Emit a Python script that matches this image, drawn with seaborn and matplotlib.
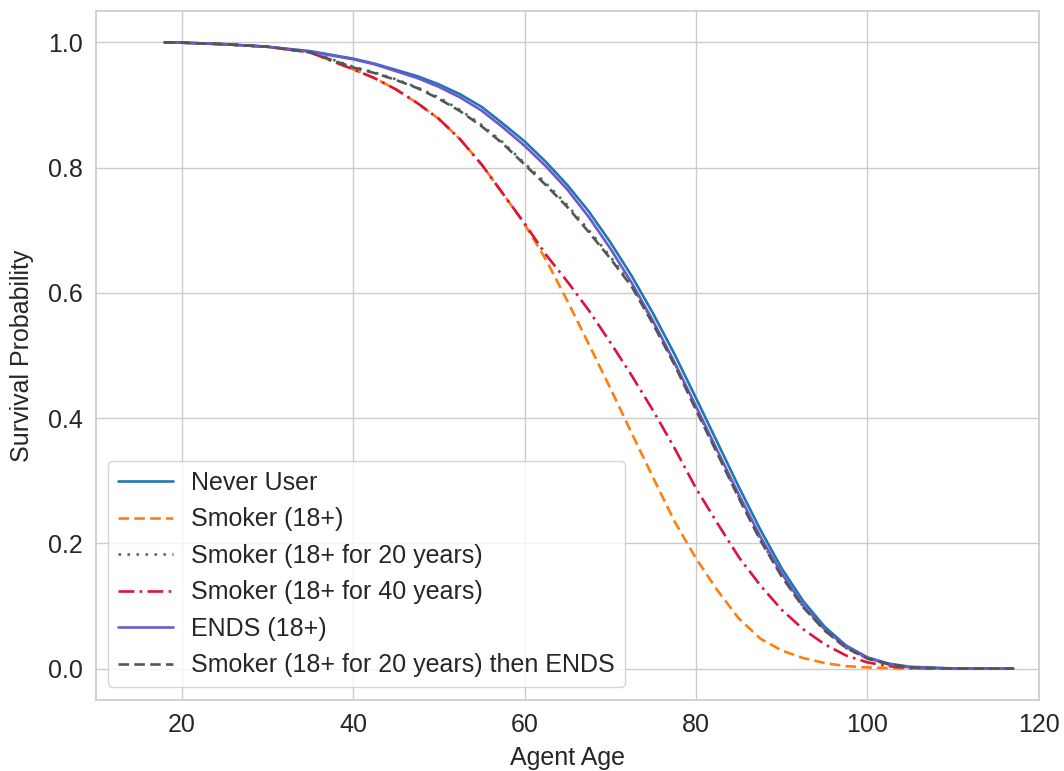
import numpy as np
import pandas as pd
import matplotlib
matplotlib.use("Agg")
import matplotlib.pyplot as plt
import seaborn as sns

# Agent age grid (years)
ages = [18, 20, 25, 30, 35, 40, 42.5, 45, 47.5, 50, 52.5, 55, 57.5, 60, 62.5, 65, 67.5,
        70, 72.5, 75, 77.5, 80, 82.5, 85, 87.5, 90, 92.5, 95, 97.5, 100, 102.5, 105,
        110, 117]

# Survival probability by user type
never_user = [1.000, 0.9995, 0.997, 0.993, 0.986, 0.974, 0.966, 0.956, 0.946, 0.933,
              0.917, 0.897, 0.870, 0.842, 0.809, 0.772, 0.730, 0.681, 0.627, 0.567,
              0.502, 0.432, 0.361, 0.290, 0.222, 0.160, 0.108, 0.067, 0.037, 0.018,
              0.008, 0.003, 0.0003, 0.0]
smoker_18 = [1.000, 0.9995, 0.997, 0.993, 0.984, 0.957, 0.943, 0.925, 0.903, 0.878,
             0.845, 0.805, 0.758, 0.710, 0.653, 0.587, 0.518, 0.448, 0.376, 0.305,
             0.235, 0.176, 0.125, 0.080, 0.048, 0.029, 0.017, 0.009, 0.004, 0.002,
             0.001, 0.0, 0.0, 0.0]
smoker_20y = [1.000, 0.9995, 0.997, 0.993, 0.985, 0.961, 0.952, 0.941, 0.928, 0.912,
              0.892, 0.868, 0.840, 0.807, 0.775, 0.740, 0.700, 0.658, 0.613, 0.553,
              0.488, 0.416, 0.345, 0.274, 0.207, 0.148, 0.099, 0.061, 0.033, 0.016,
              0.007, 0.002, 0.0002, 0.0]
smoker_40y = [1.000, 0.9995, 0.997, 0.993, 0.984, 0.957, 0.943, 0.925, 0.903, 0.878,
              0.845, 0.805, 0.758, 0.711, 0.661, 0.618, 0.572, 0.521, 0.468, 0.412,
              0.352, 0.288, 0.232, 0.178, 0.133, 0.094, 0.063, 0.039, 0.021, 0.010,
              0.004, 0.001, 0.0, 0.0]
ends_18 = [1.000, 0.9995, 0.997, 0.993, 0.985, 0.973, 0.965, 0.954, 0.943, 0.929,
           0.912, 0.891, 0.864, 0.835, 0.802, 0.765, 0.721, 0.671, 0.616, 0.555,
           0.489, 0.419, 0.348, 0.278, 0.211, 0.152, 0.101, 0.063, 0.035, 0.017,
           0.007, 0.002, 0.0002, 0.0]
smoker_20y_ends = [1.000, 0.9995, 0.997, 0.993, 0.984, 0.960, 0.951, 0.940, 0.927, 0.910,
                   0.890, 0.866, 0.838, 0.805, 0.772, 0.737, 0.697, 0.655, 0.610, 0.550,
                   0.485, 0.413, 0.343, 0.272, 0.205, 0.147, 0.098, 0.061, 0.033, 0.016,
                   0.007, 0.002, 0.0002, 0.0]

labels = ["Never User", "Smoker (18+)", "Smoker (18+ for 20 years)",
          "Smoker (18+ for 40 years)", "ENDS (18+)",
          "Smoker (18+ for 20 years) then ENDS"]
series = [never_user, smoker_18, smoker_20y, smoker_40y, ends_18, smoker_20y_ends]
colors = ["#1f77b4", "#ff7f0e", "#3d7a52", "#dc143c", "#6a5acd", "#555555"]
styles = ["-", (0, (4, 2)), (0, (1, 2.4)), (0, (6, 2, 1, 2)), "-", (0, (4, 2))]

sns.set_theme(style="whitegrid")
plt.rcParams["font.family"] = ["Liberation Sans", "DejaVu Sans"]

fig, ax = plt.subplots(figsize=(10.64, 7.71), dpi=100)
fig.subplots_adjust(left=0.090, right=0.9765, top=0.9857, bottom=0.0921)

for lab, vals, col, ls in zip(labels, series, colors, styles):
    df = pd.DataFrame({"Agent Age": ages, "Survival Probability": vals})
    sns.lineplot(data=df, x="Agent Age", y="Survival Probability", ax=ax,
                 color=col, linestyle=ls, linewidth=1.9, label=lab)

ax.set_xlim(10, 120)
ax.set_ylim(-0.05, 1.05)
ax.set_xticks([20, 40, 60, 80, 100, 120])
ax.set_yticks([0.0, 0.2, 0.4, 0.6, 0.8, 1.0])
ax.tick_params(labelsize=18)
ax.set_xlabel("Agent Age", fontsize=18, labelpad=6)
ax.set_ylabel("Survival Probability", fontsize=18, labelpad=10)

ax.legend(loc="lower left", fontsize=18, handlelength=2.2, handletextpad=0.7,
          frameon=True)

fig.savefig("out.png", dpi=100)
